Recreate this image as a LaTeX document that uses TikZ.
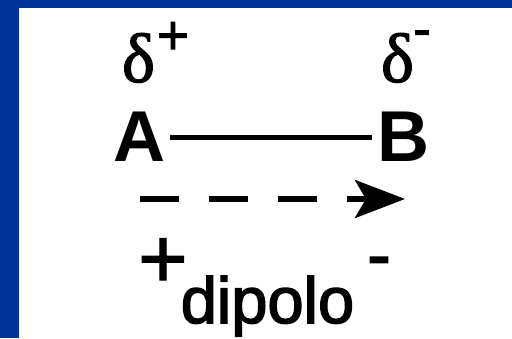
\documentclass[tikz,border=0pt]{standalone}
\usepackage{fontspec}
\setmainfont{Liberation Sans}
\newfontfamily\serifgreek{Liberation Serif}
\usetikzlibrary{arrows.meta}
\definecolor{slideblue}{RGB}{0,51,153}
\newcommand{\heavy}[2]{\special{pdf:literal 2 Tr #1 w}#2\special{pdf:literal 0 Tr}}
\tikzset{
  atom/.style={inner xsep=5pt, inner ysep=0pt, anchor=base, font=\fontsize{72}{72}\selectfont\bfseries},
  delta/.style={inner sep=0pt, anchor=base, font=\fontsize{70}{70}\selectfont\serifgreek},
  sign/.style={inner sep=0pt, anchor=base},
  bond/.style={line width=5pt},
  dipolearrow/.style={line width=5.5pt, dash pattern=on 39pt off 30pt,
    -{Stealth[length=50pt, width=38pt, inset=11pt]}}
}
\begin{document}
\begin{tikzpicture}[x=1pt, y=1pt]
  \useasboundingbox (0,0) rectangle (512,338);
  \fill[slideblue] (0,0) rectangle (512,338);
  \fill[white] (19,0) rectangle (512,330);
  % atoms
  \node[atom] (A) at (139,176) {A};
  \node[atom] (B) at (403,176) {B};
  \draw[bond] (A) -- (B);
  % partial charges
  \node[delta] (dA) at (138.5,256) {\heavy{1.2}{δ}};
  \node[sign, font=\fontsize{55}{55}\selectfont] (pA) at (173,284) {\heavy{1}{+}};
  \node[delta] (dB) at (397.5,256) {\heavy{1.2}{δ}};
  \node[sign, font=\fontsize{52}{52}\selectfont] (mB) at (422,291.5) {\heavy{1}{-}};
  % dipole arrow
  \coordinate (s) at (140,139);
  \coordinate (t) at (405,139);
  \draw[dipolearrow] (s) -- (t);
  % dipole label
  \node[sign, font=\fontsize{85}{85}\selectfont] (pl) at (163,50.5) {\heavy{1.2}{+}};
  \node[sign, font=\fontsize{72}{72}\selectfont] (mi) at (379,59) {\heavy{1.2}{-}};
  \node[sign, font=\fontsize{65}{65}\selectfont] (dip) at (267.5,15) {\heavy{1.5}{dipolo}};
\end{tikzpicture}
\end{document}
